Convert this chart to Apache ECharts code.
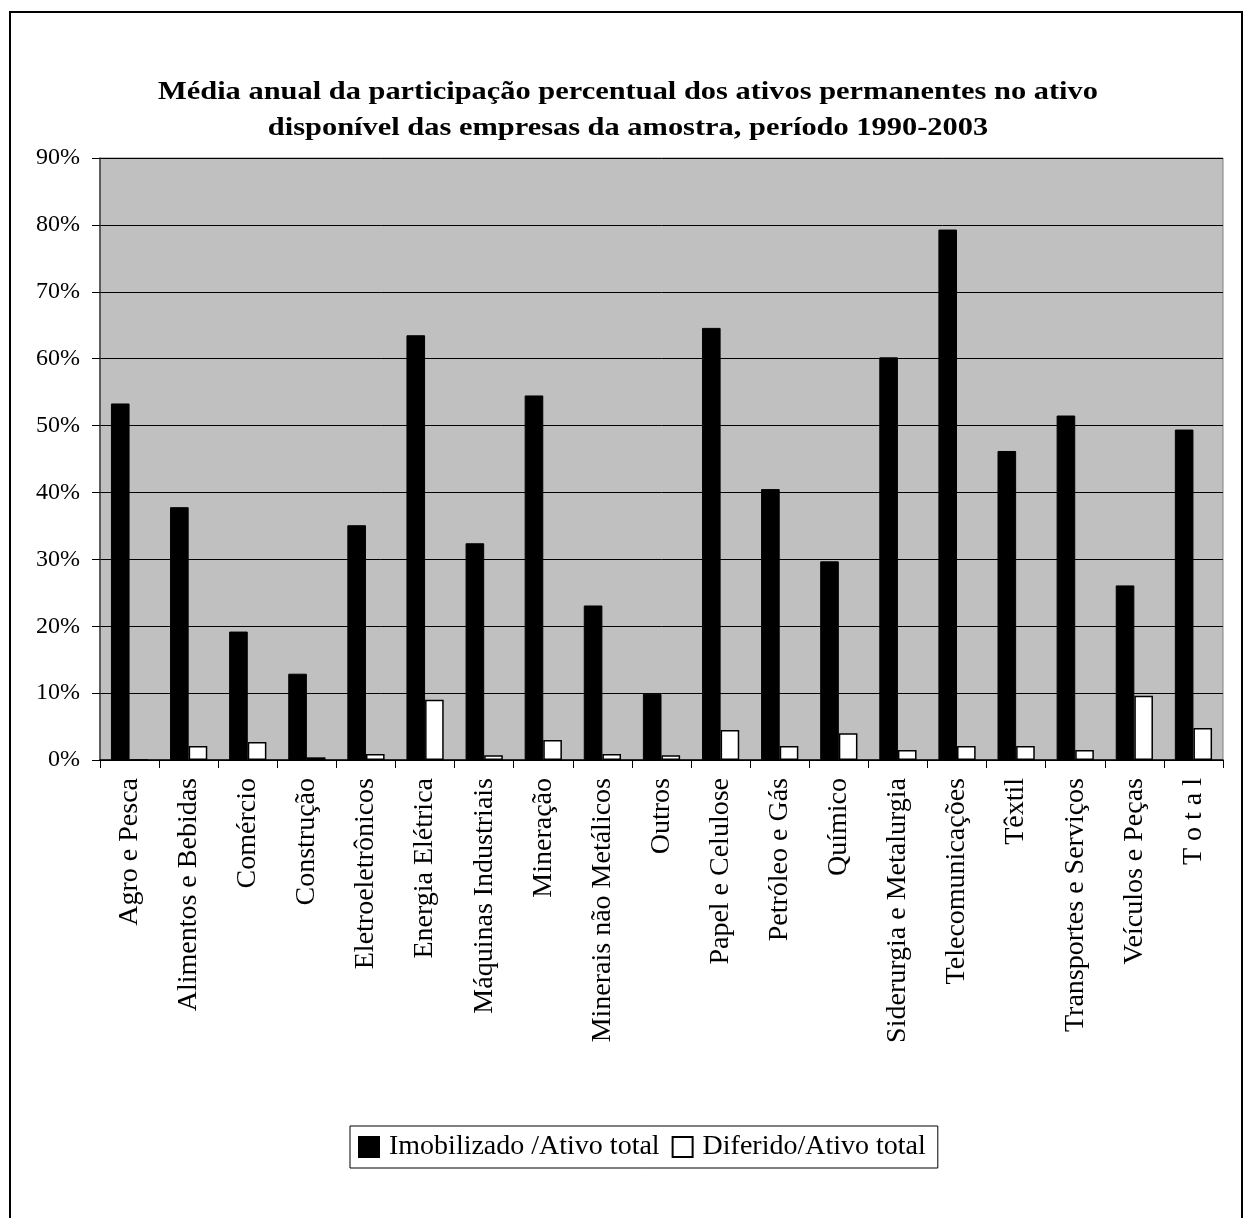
<!DOCTYPE html>
<html><head><meta charset="utf-8">
<script src="https://cdn.jsdelivr.net/npm/echarts@6/dist/echarts.min.js"></script>
<style>html,body{margin:0;padding:0;background:#fff}#c{width:1244px;height:1218px}</style>
</head><body><div id="c"></div>
<script>
const categories = ["Agro e Pesca","Alimentos e Bebidas","Comércio","Construção","Eletroeletrônicos","Energia Elétrica","Máquinas Industriais","Mineração","Minerais não Metálicos","Outros","Papel e Celulose","Petróleo e Gás","Químico","Siderurgia e Metalurgia","Telecomunicações","Têxtil","Transportes e Serviços","Veículos e Peças","T o t a l"];
const imobilizado = [53.3,37.8,19.2,12.9,35.1,63.5,32.4,54.5,23.1,9.9,64.6,40.5,29.7,60.2,79.3,46.2,51.5,26.1,49.4];
const diferido = [0.0,2.1,2.7,0.4,0.9,9.0,0.7,3.0,0.9,0.7,4.5,2.1,4.0,1.5,2.1,2.1,1.5,9.6,4.8];
const seriesNames = ["Imobilizado /Ativo total","Diferido/Ativo total"];
const titleLines = ["Média anual da participação percentual dos ativos permanentes no ativo","disponível das empresas da amostra, período 1990-2003"];

const FONT = '"Liberation Serif","Times New Roman",serif';
const chart = echarts.init(document.getElementById('c'), null, {renderer:'canvas'});
chart.setOption({
  animation:false,
  backgroundColor:'#fff',
  textStyle:{fontFamily:FONT,color:'#000'},
  graphic:[
    {type:'rect',shape:{x:10,y:12,width:1232,height:1220},style:{fill:null,stroke:'#000',lineWidth:2},silent:true},
    {type:'text',x:628,y:92,scaleX:1.17,style:{text:titleLines[0],font:'bold 26px "Liberation Serif", serif',fill:'#000',textAlign:'center',textVerticalAlign:'middle'},silent:true},
    {type:'text',x:628,y:128,scaleX:1.17,style:{text:titleLines[1],font:'bold 26px "Liberation Serif", serif',fill:'#000',textAlign:'center',textVerticalAlign:'middle'},silent:true}
  ],
  legend:{
    bottom:50, left:350,
    icon:'rect',
    itemWidth:20,itemHeight:20,itemGap:12,
    padding:[7,12,7,8],
    borderColor:'#000',borderWidth:1,
    textStyle:{fontFamily:FONT,fontSize:28,color:'#000',padding:[0,0,0,5]},
    data:seriesNames
  },
  grid:{left:100,right:21,top:158,bottom:458,show:true,backgroundColor:'#c0c0c0',borderColor:'#808080',borderWidth:1,containLabel:false},
  xAxis:{
    type:'category',data:categories,
    axisLine:{show:true,lineStyle:{color:'#000',width:1.5}},
    axisTick:{show:true,length:8,lineStyle:{color:'#000'}},
    axisLabel:{rotate:90,fontSize:28,fontFamily:FONT,color:'#000',margin:18,interval:0}
  },
  yAxis:{
    type:'value',min:0,max:90,interval:10,
    axisLine:{show:true,lineStyle:{color:'#404040',width:1.5}},
    axisTick:{show:true,length:8,lineStyle:{color:'#000'}},
    splitLine:{show:true,lineStyle:{color:'#000',width:1}},
    axisLabel:{formatter:'{value}%',fontSize:24,fontFamily:FONT,color:'#000',margin:20}
  },
  series:[
    {name:seriesNames[0],type:'bar',data:imobilizado,barGap:'0%',barCategoryGap:'37%',
     itemStyle:{color:'#000',borderColor:'#000',borderWidth:1}},
    {name:seriesNames[1],type:'bar',data:diferido,
     itemStyle:{color:'#fff',borderColor:'#000',borderWidth:1.5}}
  ]
});
</script></body></html>
